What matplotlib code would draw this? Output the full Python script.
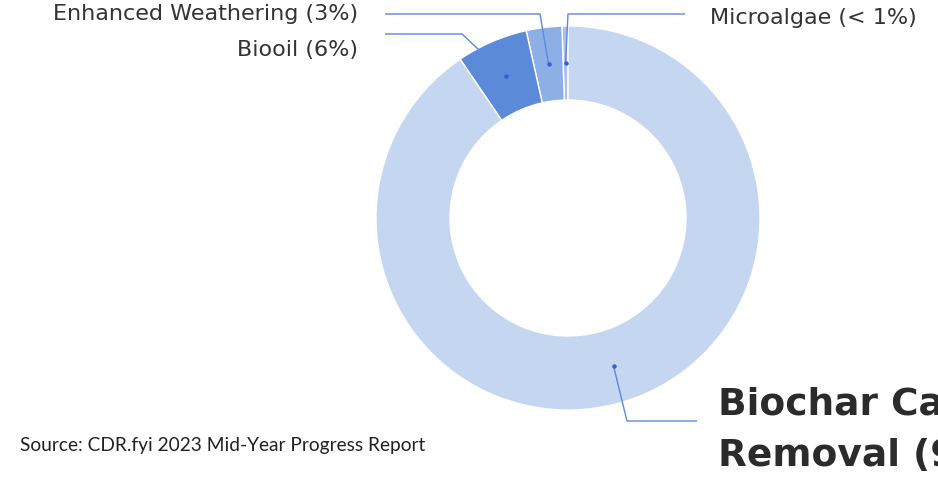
import numpy as np
import matplotlib
matplotlib.use("Agg")
import matplotlib.pyplot as plt

# data
categories = ["Microalgae", "Enhanced Weathering", "Biooil", "Biochar Carbon Removal"]
shares = [0.5, 3.0, 6.0, 90.5]
labels = ["Microalgae (< 1%)", "Enhanced Weathering (3%)", "Biooil (6%)", "Biochar Carbon\nRemoval (90%)"]
colors = ["#a9c1ec", "#8eaee6", "#5b8ad9", "#c5d6f1"]

W, H = 938, 479
fig = plt.figure(figsize=(W / 100, H / 100), dpi=100)
ax = fig.add_axes([0, 0, 1, 1])

cx, cy, R, width = 568, H - 218, 192, 74
wedges, _ = ax.pie(shares, colors=colors, startangle=90, counterclock=True,
                   center=(cx, cy), radius=R,
                   wedgeprops=dict(width=width, edgecolor="white", linewidth=1.0))
ax.set_xlim(0, W)
ax.set_ylim(0, H)
ax.set_aspect("auto")
ax.axis("off")

line_c = "#5b8ad9"
rmid = R - width / 2

def dot(i):
    w = wedges[i]
    a = np.deg2rad((w.theta1 + w.theta2) / 2)
    return cx + rmid * np.cos(a), cy + rmid * np.sin(a)

def Y(y):
    return H - y

# leader paths (pixel elbows), ending at the wedge dots
paths = {
    0: [(685, Y(14)), (568, Y(14))],
    1: [(385, Y(14)), (540, Y(14))],
    2: [(385, Y(34)), (462, Y(34))],
    3: [(697, Y(421)), (627, Y(421))],
}
for i, pts in paths.items():
    dx, dy = dot(i)
    xs = [p[0] for p in pts] + [dx]
    ys = [p[1] for p in pts] + [dy]
    ax.plot(xs, ys, color=line_c, lw=1.0, solid_capstyle="butt")
    ax.plot([dx], [dy], "o", color="#2f63c9", ms=3.2, mec="none")

lab_font = dict(family=["DejaVu Sans"], fontsize=16, color="#333333")
ax.text(358, Y(14), labels[1], ha="right", va="center", **lab_font)
ax.text(358, Y(50), labels[2], ha="right", va="center", **lab_font)
ax.text(710, Y(18), labels[0], ha="left", va="center", **lab_font)

ax.text(718, Y(430), labels[3], ha="left", va="center", fontsize=27,
        family=["DejaVu Sans"], fontweight="bold", color="#2b2b2b",
        linespacing=1.55)

ax.text(20, Y(446), "Source: CDR.fyi 2023 Mid-Year Progress Report", ha="left", va="center",
        fontsize=13.8, family=["Lato", "DejaVu Sans"], color="#222222")

fig.savefig("out.png", dpi=100)
